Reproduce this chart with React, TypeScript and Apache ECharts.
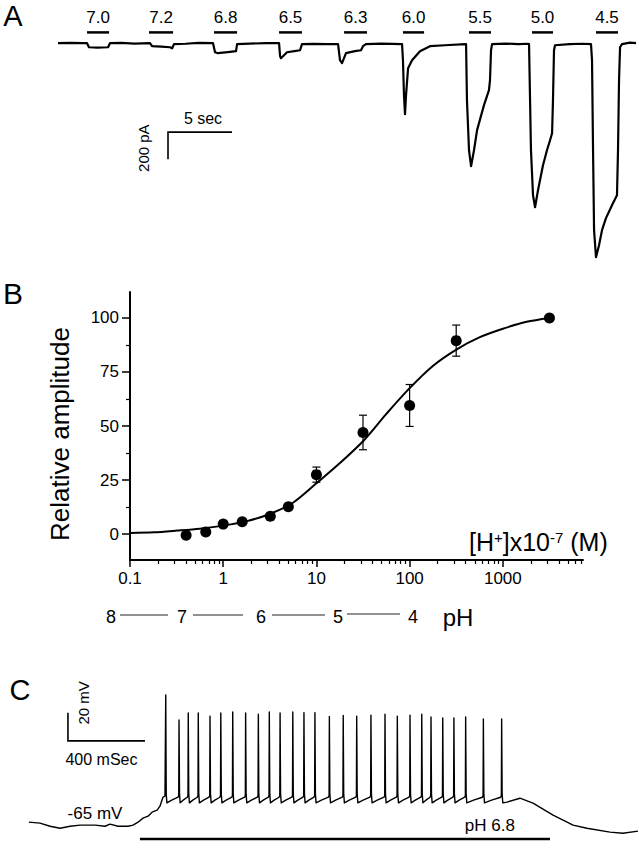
import React, { useEffect, useRef } from "react";
import * as echarts from "echarts";

const FONT = "'Liberation Sans', Arial, Helvetica, sans-serif";

// ---------------- Panel A : current trace (time s, current pA) ----------------
const traceA: [number, number][] = [
  [4.53, 0], [5.5, 3], [6.5, 0], [6.8, 0], [6.95, -30], [7.6, -33], [8.44, -30], [8.59, 0],
  [9.5, 2], [10.5, -3], [11.72, 0], [11.88, -22], [12.6, -26], [13.28, -30], [13.45, -38], [13.59, -7],
  [14.5, -4], [15.5, 2], [16.64, 0], [16.8, -67], [17.03, -74], [17.8, -66], [18.44, -59], [18.52, -7],
  [19.5, -3], [20.8, 0], [21.8, 0], [21.88, -96], [21.95, -111], [22.42, -67], [23.0, -59], [23.44, -52],
  [23.59, -7], [24.5, -5], [25.5, -7], [26.41, -7], [26.56, -126], [26.72, -148], [27.03, -74], [27.73, -59],
  [28.2, -52], [28.36, -22], [28.59, -7], [29.8, -3], [31.41, -7], [31.48, -126], [31.56, -385], [31.64, -526],
  [31.72, -385], [31.88, -185], [32.19, -126], [32.81, -59], [33.59, -22], [34.77, -15], [36.33, -7],
  [36.41, -7], [36.48, -422], [36.64, -793], [36.8, -911], [37.03, -793], [37.27, -644], [37.81, -459],
  [38.2, -348], [38.28, -274], [38.36, -52], [38.44, -7], [39.5, -3], [40.5, -7], [41.25, -4],
  [41.33, -7], [41.48, -793], [41.64, -1126], [41.8, -1215], [42.03, -1089], [42.42, -904], [42.73, -793],
  [42.97, -719], [43.13, -667], [43.2, -422], [43.28, -52], [43.36, -15], [44.5, -7], [45.5, -4], [46.17, -7],
  [46.25, -126], [46.33, -793], [46.41, -1385], [46.56, -1585], [46.8, -1496], [47.03, -1385], [47.34, -1296],
  [47.81, -1200], [48.2, -1126], [48.28, -793], [48.36, -274], [48.44, -30], [48.59, -7], [49.22, 4], [49.69, 0],
];
const phLabelsA = ["7.0", "7.2", "6.8", "6.5", "6.3", "6.0", "5.5", "5.0", "4.5"];
const phStartA = [6.8, 11.64, 16.72, 21.8, 26.88, 31.48, 36.64, 41.56, 46.56];
const phEndA = [8.52, 13.52, 18.52, 23.59, 28.67, 33.13, 38.36, 43.2, 48.28];
const PH_BAR_LEVEL_A = 80; // pA
const scaleBarA = { t: 13.125, i: -659, dt: 5, di: 200, tLabel: "5 sec", iLabel: "200 pA" };

// ---------------- Panel B : dose-response ----------------
const concB = [0.4, 0.65, 1.0, 1.6, 3.2, 5.0, 10, 31.6, 100, 316, 3162];
const ampB = [-0.5, 1, 4.6, 5.7, 8.2, 12.6, 27.5, 47, 59.5, 89.5, 100];
const errB = [0, 0, 0, 0, 0, 0, 3.5, 8, 9.7, 7.2, 0];
const fitConcB = [0.1, 0.18, 0.32, 0.56, 1, 1.8, 3.2, 5.6, 10, 18, 32, 56, 100, 180, 320, 560, 1000, 1800, 3162];
const fitAmpB = [0.5, 0.8, 1.6, 2.5, 3.9, 6, 9.4, 14.5, 23.5, 33, 43.2, 55.5, 67.5, 78, 85.5, 91, 95, 98.2, 100];
const xTickLabelsB = ["0.1", "1", "10", "100", "1000"];
const yTickValuesB = [0, 25, 50, 75, 100];
const yMinorTicksB = [12.5, 37.5, 62.5, 87.5];
const phRowLabels = ["8", "7", "6", "5", "4"];

// ---------------- Panel C : voltage trace (time ms, mV) ----------------
const preTrainC: [number, number][] = [
  [0, -64], [58, -64.7], [110, -66.9], [162, -68.3], [214, -66.9], [266, -66.1], [344, -66.1],
  [396, -66.9], [421, -65.4], [463, -66.9], [515, -66.9], [541, -66.1], [567, -64], [593, -61.1],
  [619, -59.7], [640, -56.9], [666, -55.4], [681, -52.6], [697, -46.1], [707, -45.4],
];
const spikeTimesC = [711, 780, 828, 880, 941, 997, 1059, 1126, 1192, 1249, 1305, 1371, 1429, 1486,
  1561, 1633, 1703, 1777, 1850, 1914, 1980, 2041, 2089, 2150, 2208, 2269, 2361, 2456];
const spikePeaksC = [26.7, 8.9, 13.9, 13.9, 11.7, 13.9, 14.6, 13.9, 13.1, 14.6, 13.9, 14.6, 14.2, 14.2,
  11.4, 12.1, 11.7, 12.4, 13.1, 11.7, 12.4, 13.1, 11, 10.3, 10.3, 11, 9.6, 9.6];
const postTrainC: [number, number][] = [
  [2484, -49.7], [2551, -46.9], [2619, -50.4], [2723, -59], [2827, -66.1], [2899, -68.3],
  [3019, -71.1], [3086, -71.9], [3164, -70.4],
];
const AHP_C = -50.2;
const RAMP_C = -48.3;
const PRE_SPIKE_C = -46.2;
const THRESHOLD_C = -45;
const phBarC = { start: 577, end: 2707, level: -76, label: "pH 6.8", labelT: 2395 };
const scaleBarC = { t: 203, v: -6, dt: 400, dv: 20, tLabel: "400 mSec", vLabel: "20 mV" };

function buildTraceC(): [number, number][] {
  const pts: [number, number][] = [...preTrainC];
  for (let i = 0; i < spikeTimesC.length; i++) {
    const t = spikeTimesC[i];
    if (i > 0) pts.push([t - 1.5, THRESHOLD_C]);
    pts.push([t, spikePeaksC[i]]);
    pts.push([t + 2.5, -44]);
    pts.push([t + 6, AHP_C]);
    const next = spikeTimesC[i + 1];
    if (next !== undefined) {
      const gap = next - t;
      pts.push([t + 0.45 * gap, RAMP_C]);
      pts.push([next - 5, PRE_SPIKE_C]);
    }
  }
  return pts.concat(postTrainC);
}

const txt = (text: string, x: number, y: number, size: number, extra: any = {}) => ({
  type: "text",
  x,
  y,
  ...extra,
  style: { text, fill: "#000", fontSize: size, fontFamily: FONT, align: "center", verticalAlign: "middle", ...(extra.style || {}) },
});

export default function App() {
  const ref = useRef<HTMLDivElement>(null);
  useEffect(() => {
    if (!ref.current) return;
    const chart = echarts.init(ref.current, undefined, { renderer: "svg" });

    const xMajor = [-1, 0, 1, 2, 3];
    const xMinor: number[] = [];
    for (let d = -1; d <= 3; d++) for (let m = 2; m <= 9; m++) {
      const v = Math.log10(m) + d;
      if (v < 3.86) xMinor.push(v);
    }

    const phBarsData = phLabelsA.map((l, i) => [phStartA[i], phEndA[i], PH_BAR_LEVEL_A, l]);
    const errData = concB.map((c, i) => [Math.log10(c), ampB[i] - errB[i], ampB[i] + errB[i]]).filter((_, i) => errB[i] > 0);

    const option: any = {
      animation: false,
      backgroundColor: "#fff",
      grid: [
        { left: 0, right: 0, top: 0, height: 270 },
        { left: 130, top: 292, width: 453, height: 268 },
        { left: 0, right: 0, top: 640, height: 213 },
      ],
      xAxis: [
        { gridIndex: 0, type: "value", min: 0, max: 49.92, show: false },
        {
          gridIndex: 1, type: "value", min: -1, max: 3.86,
          axisLine: { show: true, onZero: false, lineStyle: { color: "#000", width: 2 } },
          axisTick: { show: true, customValues: xMajor, length: 7, lineStyle: { color: "#000", width: 1.5 } },
          axisLabel: {
            show: true, customValues: xMajor, margin: 10, fontSize: 17, color: "#000", fontFamily: FONT,
            formatter: (v: number) => xTickLabelsB[Math.round(v) + 1] ?? "",
          },
          splitLine: { show: false },
        },
        {
          gridIndex: 1, type: "value", min: -1, max: 3.86, position: "bottom",
          axisLine: { show: false, onZero: false },
          axisTick: { show: true, customValues: xMinor, length: 4, lineStyle: { color: "#000", width: 1.2 } },
          axisLabel: { show: false },
          splitLine: { show: false },
        },
        { gridIndex: 2, type: "value", min: -150, max: 3169.5, show: false },
      ],
      yAxis: [
        { gridIndex: 0, type: "value", min: -1680, max: 320, show: false },
        {
          gridIndex: 1, type: "value", min: -12, max: 112,
          axisLine: { show: true, onZero: false, lineStyle: { color: "#000", width: 2 } },
          axisTick: { show: true, customValues: yTickValuesB, length: 8, lineStyle: { color: "#000", width: 1.5 } },
          axisLabel: { show: true, customValues: yTickValuesB, margin: 11, fontSize: 17, color: "#000", fontFamily: FONT },
          splitLine: { show: false },
        },
        {
          gridIndex: 1, type: "value", min: -12, max: 112, position: "left",
          axisLine: { show: false, onZero: false },
          axisTick: { show: true, customValues: yMinorTicksB, length: 4, lineStyle: { color: "#000", width: 1.2 } },
          axisLabel: { show: false },
          splitLine: { show: false },
        },
        { gridIndex: 2, type: "value", min: -86, max: 66, show: false },
      ],
      series: [
        {
          type: "line", xAxisIndex: 0, yAxisIndex: 0, data: traceA, showSymbol: false, symbol: "none",
          lineStyle: { color: "#000", width: 2.2, join: "round" }, z: 2,
        },
        {
          type: "custom", xAxisIndex: 0, yAxisIndex: 0, data: phBarsData,
          renderItem: (_p: any, api: any) => {
            const a = api.coord([api.value(0), api.value(2)]);
            const b = api.coord([api.value(1), api.value(2)]);
            const label = phLabelsA[_p.dataIndex];
            return {
              type: "group",
              children: [
                { type: "line", shape: { x1: a[0], y1: a[1], x2: b[0], y2: b[1] }, style: { stroke: "#000", lineWidth: 2.5 } },
                txt(label, (a[0] + b[0]) / 2, a[1] - 15, 17),
              ],
            };
          },
        },
        {
          type: "custom", xAxisIndex: 0, yAxisIndex: 0, data: [[scaleBarA.t, scaleBarA.i]],
          renderItem: (_p: any, api: any) => {
            const c = api.coord([scaleBarA.t, scaleBarA.i]);
            const h = api.coord([scaleBarA.t + scaleBarA.dt, scaleBarA.i]);
            const v = api.coord([scaleBarA.t, scaleBarA.i - scaleBarA.di]);
            return {
              type: "group",
              children: [
                { type: "polyline", shape: { points: [h, c, v] }, style: { stroke: "#000", lineWidth: 1.6, fill: "none" } },
                txt(scaleBarA.tLabel, (c[0] + h[0]) / 2 + 3, c[1] - 14, 16),
                txt(scaleBarA.iLabel, c[0] - 25, c[1] + 16, 15, { rotation: Math.PI / 2 }),
              ],
            };
          },
        },
        {
          type: "line", xAxisIndex: 1, yAxisIndex: 1, smooth: 0.3, showSymbol: false, symbol: "none",
          data: fitConcB.map((c, i) => [Math.log10(c), fitAmpB[i]]),
          lineStyle: { color: "#000", width: 2 }, z: 2,
        },
        {
          type: "custom", xAxisIndex: 1, yAxisIndex: 1, data: errData, z: 3,
          renderItem: (_p: any, api: any) => {
            const lo = api.coord([api.value(0), api.value(1)]);
            const hi = api.coord([api.value(0), api.value(2)]);
            const cap = 4;
            const st = { stroke: "#000", lineWidth: 1.2 };
            return {
              type: "group",
              children: [
                { type: "line", shape: { x1: lo[0], y1: lo[1], x2: hi[0], y2: hi[1] }, style: st },
                { type: "line", shape: { x1: lo[0] - cap, y1: lo[1], x2: lo[0] + cap, y2: lo[1] }, style: st },
                { type: "line", shape: { x1: hi[0] - cap, y1: hi[1], x2: hi[0] + cap, y2: hi[1] }, style: st },
              ],
            };
          },
        },
        {
          type: "scatter", xAxisIndex: 1, yAxisIndex: 1, symbol: "circle", symbolSize: 11,
          data: concB.map((c, i) => [Math.log10(c), ampB[i]]),
          itemStyle: { color: "#000", opacity: 1 }, z: 4,
        },
        {
          type: "line", xAxisIndex: 3, yAxisIndex: 3, data: buildTraceC(), showSymbol: false, symbol: "none",
          lineStyle: { color: "#000", width: 1.4, join: "round" },
        },
        {
          type: "custom", xAxisIndex: 3, yAxisIndex: 3, data: [[phBarC.start, phBarC.end, phBarC.level]],
          renderItem: (_p: any, api: any) => {
            const a = api.coord([phBarC.start, phBarC.level]);
            const b = api.coord([phBarC.end, phBarC.level]);
            const l = api.coord([phBarC.labelT, phBarC.level]);
            return {
              type: "group",
              children: [
                { type: "line", shape: { x1: a[0], y1: a[1], x2: b[0], y2: b[1] }, style: { stroke: "#000", lineWidth: 2.6 } },
                txt(phBarC.label, l[0], l[1] - 13, 17),
              ],
            };
          },
        },
        {
          type: "custom", xAxisIndex: 3, yAxisIndex: 3, data: [[scaleBarC.t, scaleBarC.v]],
          renderItem: (_p: any, api: any) => {
            const c = api.coord([scaleBarC.t, scaleBarC.v]);
            const h = api.coord([scaleBarC.t + scaleBarC.dt, scaleBarC.v]);
            const v = api.coord([scaleBarC.t, scaleBarC.v + scaleBarC.dv]);
            return {
              type: "group",
              children: [
                { type: "polyline", shape: { points: [v, c, h] }, style: { stroke: "#000", lineWidth: 1.6, fill: "none" } },
                txt(scaleBarC.tLabel, (c[0] + h[0]) / 2 - 5, c[1] + 19, 16),
                txt(scaleBarC.vLabel, c[0] + 16, c[1] - 38, 15, { rotation: Math.PI / 2 }),
              ],
            };
          },
        },
      ],
      graphic: [
        txt("A", 13, 16, 29),
        txt("B", 13, 293, 30),
        txt("C", 20, 690, 29),
        txt("Relative amplitude", 60, 434, 26, { rotation: Math.PI / 2 }),
        {
          type: "text", x: 469, y: 542,
          style: {
            text: "[H{s|+}]x10{s|-7} (M)", fill: "#000", fontSize: 25, fontFamily: FONT,
            align: "left", verticalAlign: "middle",
            rich: { s: { fontSize: 15, fontFamily: FONT, fill: "#000", verticalAlign: "top", lineHeight: 14 } },
          },
        },
        txt(phRowLabels[0], 111, 617, 18),
        txt(phRowLabels[1], 182, 617, 18),
        txt(phRowLabels[2], 261, 617, 18),
        txt(phRowLabels[3], 338, 617, 18),
        txt(phRowLabels[4], 413, 617, 18),
        txt("pH", 458, 617, 24),
        { type: "line", shape: { x1: 120, y1: 615, x2: 168, y2: 615 }, style: { stroke: "#222", lineWidth: 1 } },
        { type: "line", shape: { x1: 193, y1: 615, x2: 243, y2: 615 }, style: { stroke: "#222", lineWidth: 1 } },
        { type: "line", shape: { x1: 272, y1: 615, x2: 325, y2: 615 }, style: { stroke: "#222", lineWidth: 1 } },
        { type: "line", shape: { x1: 347, y1: 614, x2: 400, y2: 614 }, style: { stroke: "#222", lineWidth: 1 } },
        txt("-65 mV", 95, 813, 17),
      ],
    };
    chart.setOption(option);
    return () => chart.dispose();
  }, []);
  return <div ref={ref} style={{ position: "absolute", left: 0, top: 0, width: 639, height: 853 }} />;
}
